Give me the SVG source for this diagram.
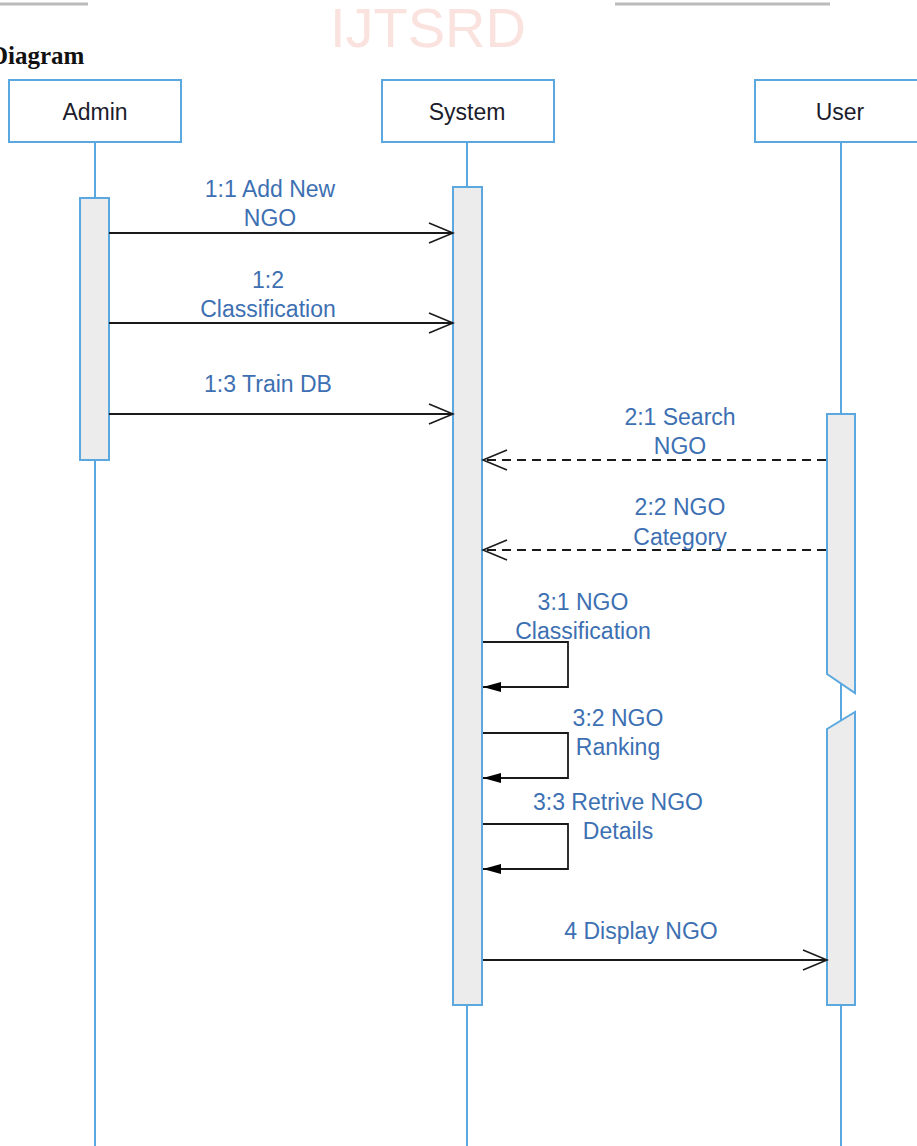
<svg xmlns="http://www.w3.org/2000/svg" width="917" height="1146" viewBox="0 0 917 1146">
<style>
.box{fill:#fff;stroke:#5ba8e0;stroke-width:2}
.life{stroke:#5ba8e0;stroke-width:2;fill:none}
.act{fill:#ececec;stroke:#5ba8e0;stroke-width:2}
.name{font-family:"Liberation Sans",Arial,sans-serif;font-size:23px;fill:#1c1c2c;text-anchor:middle}
.lbl{font-family:"Liberation Sans",Arial,sans-serif;font-size:23px;fill:#3d70b2;text-anchor:middle}
.msg{stroke:#1a1a1a;stroke-width:1.8;fill:none}
.dash{stroke-dasharray:9,6}
</style>
<defs>
<marker id="open" markerWidth="28" markerHeight="24" refX="26" refY="12" orient="auto" markerUnits="userSpaceOnUse">
<path d="M2,2 L26,12 L2,22" fill="none" stroke="#1a1a1a" stroke-width="1.6"/>
</marker>
<marker id="filled" markerWidth="20" markerHeight="12" refX="18" refY="6" orient="auto" markerUnits="userSpaceOnUse">
<path d="M0,1 L18,6 L0,11 Z" fill="#000"/>
</marker>
</defs>
<rect width="917" height="1146" fill="#fff"/>
<g id="header">
<line x1="0" y1="4" x2="88" y2="4" stroke="#bbbbbb" stroke-width="3"/>
<line x1="615" y1="4" x2="830" y2="4" stroke="#bbbbbb" stroke-width="3"/>
<text x="428" y="47" font-family="Liberation Sans,Arial,sans-serif" font-size="56" fill="#fae3df" text-anchor="middle">IJTSRD</text>
<text x="-10" y="64" font-family="Liberation Serif,Times New Roman,serif" font-size="25" font-weight="bold" fill="#111">Diagram</text>
</g>
<g id="admin">
<line class="life" x1="95" y1="142" x2="95" y2="1146"/>
<rect class="box" x="9" y="80" width="172" height="62"/>
<text class="name" x="95" y="120">Admin</text>
<rect class="act" x="80" y="198" width="29" height="262"/>
</g>
<g id="system">
<line class="life" x1="467" y1="142" x2="467" y2="1146"/>
<rect class="box" x="382" y="80" width="172" height="62"/>
<text class="name" x="467" y="120">System</text>
<rect class="act" x="453" y="187" width="29" height="818"/>
</g>
<g id="user">
<line class="life" x1="841" y1="142" x2="841" y2="1146"/>
<rect class="box" x="755" y="80" width="172" height="62"/>
<text class="name" x="840" y="120">User</text>
<path class="act" d="M827,414 L855,414 L855,693 L827,674 Z"/>
<path class="act" d="M827,729 L855,712 L855,1005 L827,1005 Z"/>
</g>
<g id="connectors">
<line class="msg" x1="109" y1="233" x2="453" y2="233" marker-end="url(#open)"/>
<line class="msg" x1="109" y1="323" x2="453" y2="323" marker-end="url(#open)"/>
<line class="msg" x1="109" y1="414" x2="453" y2="414" marker-end="url(#open)"/>
<line class="msg dash" x1="826" y1="460" x2="483" y2="460" marker-end="url(#open)"/>
<line class="msg dash" x1="826" y1="550" x2="483" y2="550" marker-end="url(#open)"/>
<polyline class="msg" points="483,642 568,642 568,687 483,687" marker-end="url(#filled)"/>
<polyline class="msg" points="483,733 568,733 568,778 483,778" marker-end="url(#filled)"/>
<polyline class="msg" points="483,824 568,824 568,869 483,869" marker-end="url(#filled)"/>
<line class="msg" x1="483" y1="960" x2="827" y2="960" marker-end="url(#open)"/>
</g>
<g id="labels">
<text class="lbl" x="270" y="197">1:1 Add New</text>
<text class="lbl" x="270" y="226">NGO</text>
<text class="lbl" x="268" y="288">1:2</text>
<text class="lbl" x="268" y="317">Classification</text>
<text class="lbl" x="268" y="392">1:3 Train DB</text>
<text class="lbl" x="680" y="425">2:1 Search</text>
<text class="lbl" x="680" y="454">NGO</text>
<text class="lbl" x="680" y="515">2:2 NGO</text>
<text class="lbl" x="680" y="545">Category</text>
<text class="lbl" x="583" y="610">3:1 NGO</text>
<text class="lbl" x="583" y="639">Classification</text>
<text class="lbl" x="618" y="726">3:2 NGO</text>
<text class="lbl" x="618" y="755">Ranking</text>
<text class="lbl" x="618" y="810">3:3 Retrive NGO</text>
<text class="lbl" x="618" y="839">Details</text>
<text class="lbl" x="641" y="939">4 Display NGO</text>
</g>
</svg>
